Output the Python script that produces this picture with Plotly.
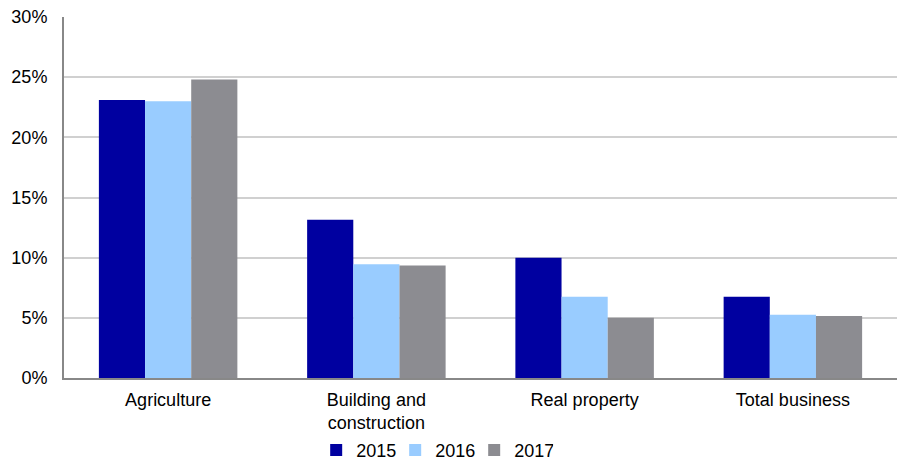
import plotly.graph_objects as go

categories = ["Agriculture", "Building and<br>construction", "Real property", "Total business"]
years = ["2015", "2016", "2017"]
values_2015 = [23.1, 13.15, 10.0, 6.75]
values_2016 = [23.0, 9.45, 6.75, 5.25]
values_2017 = [24.8, 9.35, 5.0, 5.15]
colors = ["#0000A0", "#99CCFF", "#8C8C91"]

fig = go.Figure()
for year, vals, col in zip(years, [values_2015, values_2016, values_2017], colors):
    fig.add_trace(go.Bar(
        x=categories, y=vals, name=year,
        marker=dict(color=col, line=dict(width=0)),
    ))

fig.update_layout(
    width=897, height=461,
    margin=dict(l=64, r=0, t=17, b=83, autoexpand=False),
    paper_bgcolor="white", plot_bgcolor="white",
    font=dict(family="Liberation Sans, Arial, sans-serif", size=18, color="#000000"),
    barmode="group", bargap=0.335, bargroupgap=0,
    legend=dict(
        orientation="h", x=0.445, xanchor="center", y=-0.2, yanchor="middle",
        itemwidth=30, font=dict(size=18), tracegroupgap=0,
        entrywidth=34, entrywidthmode="pixels",
    ),
    xaxis=dict(
        showline=True, linecolor="#888888", linewidth=2,
        ticks="", showgrid=False, automargin=False, ticklabelstandoff=4,
    ),
    yaxis=dict(
        range=[0, 30], dtick=5, ticksuffix="%",
        showgrid=True, gridcolor="#D0D0D0", gridwidth=1.5,
        showline=True, linecolor="#888888", linewidth=2,
        ticks="", ticklabelstandoff=11, zeroline=False, automargin=False,
    ),
)

fig.write_html("out.html")
